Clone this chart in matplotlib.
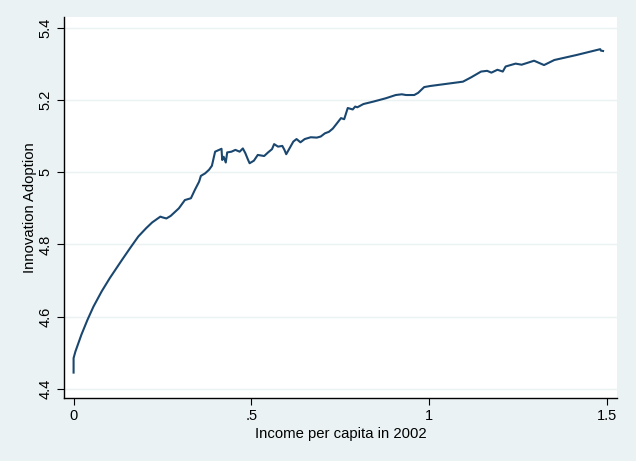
import matplotlib.pyplot as plt

# Values (income per capita vs. fitted innovation adoption)
income = [0.000, 0.000, 0.005, 0.022, 0.039, 0.056, 0.079, 0.102, 0.136, 0.159,
          0.182, 0.204, 0.221, 0.244, 0.250, 0.261, 0.273, 0.296, 0.313, 0.330,
          0.341, 0.353, 0.358, 0.370, 0.381, 0.389, 0.398, 0.416, 0.418, 0.422,
          0.428, 0.432, 0.444, 0.455, 0.467, 0.476, 0.483, 0.490, 0.495, 0.507,
          0.518, 0.536, 0.547, 0.558, 0.564, 0.575, 0.587, 0.593, 0.598, 0.610,
          0.618, 0.627, 0.638, 0.650, 0.667, 0.684, 0.695, 0.707, 0.718, 0.729,
          0.741, 0.752, 0.761, 0.771, 0.785, 0.792, 0.798, 0.815, 0.844, 0.878,
          0.906, 0.923, 0.935, 0.958, 0.969, 0.986, 1.003, 1.049, 1.095, 1.118,
          1.146, 1.163, 1.175, 1.192, 1.207, 1.215, 1.243, 1.260, 1.295, 1.323,
          1.352, 1.415, 1.481, 1.483, 1.489]
adoption = [4.445, 4.485, 4.503, 4.550, 4.591, 4.628, 4.670, 4.707, 4.757, 4.790,
            4.822, 4.845, 4.861, 4.877, 4.875, 4.872, 4.879, 4.900, 4.923, 4.928,
            4.951, 4.974, 4.990, 4.997, 5.007, 5.018, 5.057, 5.065, 5.034, 5.043,
            5.027, 5.055, 5.057, 5.062, 5.057, 5.066, 5.053, 5.036, 5.025, 5.032,
            5.048, 5.045, 5.055, 5.064, 5.078, 5.071, 5.073, 5.062, 5.050, 5.071,
            5.085, 5.092, 5.083, 5.092, 5.097, 5.096, 5.099, 5.108, 5.112, 5.121,
            5.136, 5.150, 5.147, 5.178, 5.174, 5.182, 5.180, 5.189, 5.196, 5.205,
            5.214, 5.216, 5.214, 5.214, 5.220, 5.236, 5.239, 5.245, 5.251, 5.263,
            5.279, 5.281, 5.276, 5.284, 5.279, 5.293, 5.301, 5.298, 5.309, 5.297,
            5.311, 5.325, 5.341, 5.337, 5.336]

xticks = [0, 0.5, 1, 1.5]
xtick_labels = ['0', '.5', '1', '1.5']
yticks = [4.4, 4.6, 4.8, 5.0, 5.2, 5.4]
ytick_labels = ['4.4', '4.6', '4.8', '5', '5.2', '5.4']

plt.rcParams['font.family'] = ['Liberation Sans', 'DejaVu Sans']

bg = '#eaf2f3'
fig = plt.figure(figsize=(6.36, 4.61), dpi=100, facecolor=bg)
ax = fig.add_axes([0.1006, 0.137, 0.8694, 0.826])
ax.set_facecolor('white')

ax.plot(income, adoption, color='#1a476f', linewidth=1.5)

ax.set_xlim(-0.027, 1.528)
ax.set_ylim(4.375, 5.43)
ax.set_xticks(xticks)
ax.set_xticklabels(xtick_labels)
ax.set_yticks(yticks)
ax.set_yticklabels(ytick_labels, rotation=90, va='center')
ax.tick_params(direction='out', length=5, width=0.8, colors='black',
               labelsize=10.5, pad=3)
ax.grid(True, axis='y', color=bg, linewidth=1.0)
ax.set_axisbelow(True)

for side in ['top', 'right']:
    ax.spines[side].set_visible(False)
for side in ['left', 'bottom']:
    ax.spines[side].set_color('black')
    ax.spines[side].set_linewidth(1.0)

ax.set_xlabel('Income per capita in 2002', fontsize=10.7, labelpad=3)
ax.set_ylabel('Innovation Adoption', fontsize=10.7, labelpad=1)

plt.savefig('out.png', dpi=100, facecolor=bg)
